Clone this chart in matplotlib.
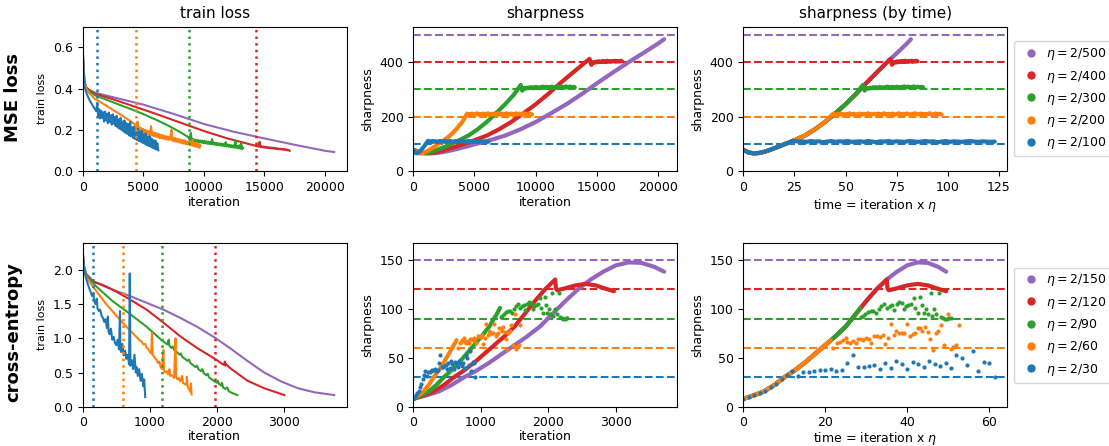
import numpy as np
import matplotlib
matplotlib.use("Agg")
import matplotlib.pyplot as plt
from matplotlib.lines import Line2D

BLUE, ORANGE, GREEN, RED, PURPLE = "#1f77b4", "#ff7f0e", "#2ca02c", "#d62728", "#9467bd"

# ================= MSE loss runs (order: 2/500 ... 2/100) =================
mse_names = ["2/500", "2/400", "2/300", "2/200", "2/100"]
mse_etas = [2 / 500, 2 / 400, 2 / 300, 2 / 200, 2 / 100]
mse_thresholds = [500, 400, 300, 200, 100]
mse_eos_iters = [None, 14330, 8750, 4400, 1180]
colors = [PURPLE, RED, GREEN, ORANGE, BLUE]

# train loss, smooth part (iteration, loss)
mse_loss_it_500 = [0, 60, 150, 300, 500, 1000, 2500, 5000, 7500, 10000, 12500, 15000, 17500, 20000, 20750]
mse_loss_500 = [0.60, 0.50, 0.43, 0.405, 0.395, 0.38, 0.358, 0.322, 0.277, 0.228, 0.19, 0.158, 0.127, 0.098, 0.092]
mse_loss_it_400 = [0, 60, 150, 300, 500, 1000, 2500, 4000, 6000, 8000, 10000, 12000, 14300]
mse_loss_400 = [0.60, 0.50, 0.43, 0.405, 0.392, 0.375, 0.348, 0.318, 0.278, 0.236, 0.194, 0.157, 0.122]
mse_loss_it_300 = [0, 60, 150, 300, 500, 1000, 2000, 3000, 4000, 5000, 6000, 7000, 8000, 8700]
mse_loss_300 = [0.60, 0.50, 0.43, 0.40, 0.387, 0.368, 0.345, 0.322, 0.300, 0.276, 0.250, 0.222, 0.19, 0.165]
mse_loss_it_200 = [0, 60, 150, 300, 500, 1000, 2000, 3000, 4000, 4380]
mse_loss_200 = [0.60, 0.50, 0.43, 0.40, 0.38, 0.35, 0.315, 0.278, 0.24, 0.222]
mse_loss_it_100 = [0, 60, 150, 350, 580, 850, 1120]
mse_loss_100 = [0.60, 0.50, 0.41, 0.372, 0.342, 0.315, 0.29]

# train loss, noisy part after reaching 2/eta (logged every 80 iterations)
mse_noisy_start = [None, 14360, 8760, 4440, 1200]
mse_noisy_400 = [0.120, 0.124, 0.118, 0.142, 0.116, 0.120, 0.114, 0.119, 0.113, 0.117, 0.112, 0.116,
                 0.111, 0.115, 0.110, 0.114, 0.109, 0.113, 0.108, 0.112, 0.107, 0.110, 0.106, 0.109,
                 0.105, 0.108, 0.104, 0.107, 0.103, 0.106, 0.102, 0.104, 0.100, 0.102, 0.098]
mse_noisy_300 = [0.160, 0.150, 0.185, 0.146, 0.156, 0.143, 0.153, 0.141, 0.151, 0.140, 0.150, 0.138,
                 0.148, 0.137, 0.147, 0.135, 0.146, 0.134, 0.144, 0.132, 0.142, 0.131, 0.141, 0.130,
                 0.155, 0.129, 0.138, 0.127, 0.137, 0.126, 0.135, 0.125, 0.134, 0.123, 0.133, 0.122,
                 0.131, 0.121, 0.140, 0.119, 0.128, 0.118, 0.127, 0.116, 0.125, 0.115, 0.124, 0.113,
                 0.148, 0.112, 0.121, 0.110, 0.125, 0.108, 0.135, 0.106, 0.112]
mse_noisy_200 = [0.205, 0.240, 0.198, 0.212, 0.192, 0.208, 0.188, 0.204, 0.183, 0.200, 0.180, 0.196,
                 0.178, 0.193, 0.176, 0.218, 0.172, 0.188, 0.168, 0.186, 0.166, 0.182, 0.163, 0.180,
                 0.160, 0.176, 0.158, 0.174, 0.156, 0.171, 0.154, 0.168, 0.152, 0.166, 0.150, 0.164,
                 0.200, 0.147, 0.162, 0.144, 0.160, 0.142, 0.156, 0.140, 0.155, 0.137, 0.152, 0.135,
                 0.150, 0.132, 0.148, 0.130, 0.145, 0.128, 0.143, 0.126, 0.140, 0.123, 0.150, 0.120,
                 0.136, 0.118, 0.138, 0.115, 0.130, 0.112, 0.125]
mse_noisy_100 = [0.330, 0.262, 0.300, 0.255, 0.292, 0.258, 0.285, 0.240, 0.288, 0.245, 0.278, 0.232,
                 0.283, 0.238, 0.270, 0.225, 0.275, 0.230, 0.262, 0.218, 0.268, 0.212, 0.250, 0.205,
                 0.258, 0.200, 0.240, 0.192, 0.245, 0.185, 0.232, 0.180, 0.228, 0.172, 0.238, 0.168,
                 0.212, 0.160, 0.215, 0.155, 0.200, 0.150, 0.205, 0.145, 0.190, 0.142, 0.195, 0.136,
                 0.178, 0.132, 0.182, 0.126, 0.168, 0.122, 0.170, 0.118, 0.158, 0.112, 0.150, 0.108,
                 0.148, 0.104, 0.135, 0.100]

# sharpness, progressive sharpening part (iteration, sharpness)
mse_sharp_it_500 = [0, 625, 1250, 1875, 2500, 3125, 3750, 4375, 5000, 5625, 6250, 7500, 8750,
                    10000, 11250, 12500, 13750, 15000, 16250, 17500, 18750, 20000, 20500]
mse_sharp_500 = [78, 68, 65, 66, 70, 76, 83, 90, 98, 105, 113, 130, 153, 180, 212, 245, 282, 322,
                 360, 397, 432, 468, 484]
mse_sharp_it_400 = [0, 500, 1000, 1500, 2000, 2500, 3000, 3500, 4000, 4500, 5000, 6000, 7000, 8000,
                    9000, 10000, 11000, 12000, 13000, 14000, 14400]
mse_sharp_400 = [78, 68, 65, 66, 70, 76, 83, 90, 98, 105, 113, 130, 153, 180, 212, 245, 282, 322, 360, 397, 412]
mse_sharp_it_300 = [0, 375, 750, 1125, 1500, 1875, 2250, 2625, 3000, 3375, 3750, 4500, 5250, 6000,
                    6750, 7500, 8250, 8775]
mse_sharp_300 = [78, 68, 65, 66, 70, 76, 83, 90, 98, 105, 113, 130, 153, 180, 212, 245, 282, 316]
mse_sharp_it_200 = [0, 250, 500, 750, 1000, 1250, 1500, 1750, 2000, 2250, 2500, 3000, 3500, 4000, 4400]
mse_sharp_200 = [78, 68, 65, 66, 70, 76, 83, 90, 98, 105, 113, 130, 153, 180, 211]
mse_sharp_it_100 = [0, 125, 250, 375, 500, 625, 750, 875, 1000, 1125, 1200]
mse_sharp_100 = [78, 68, 65, 66, 70, 76, 83, 90, 98, 105, 111]

# sharpness at the edge of stability (logged every 100 iterations)
mse_plateau_start = [None, 14550, 8900, 4500, 1250]
mse_plateau_400 = [390, 397, 400, 398, 402, 399, 403, 401, 400, 404, 401, 403, 400, 405, 402, 401,
                   404, 402, 403, 405, 401, 404, 403, 402, 405, 403]
mse_plateau_300 = [295, 302, 305, 303, 306, 304, 307, 305, 308, 304, 306, 309, 305, 307, 304, 308,
                   306, 310, 305, 307, 309, 306, 308, 305, 310, 307, 306, 309, 307, 311, 306, 308,
                   310, 307, 309, 306, 311, 308, 307, 310, 308, 306, 309, 307]
mse_plateau_200 = [205, 209, 207, 211, 206, 209, 208, 212, 207, 210, 206, 209, 211, 207, 210, 208,
                   212, 206, 209, 210, 207, 211, 208, 209, 212, 207, 210, 208, 211, 206, 209, 212,
                   208, 210, 207, 211, 209, 206, 210, 212, 208, 209, 211, 207, 210, 208, 212, 209,
                   207, 211, 209, 210, 208]
mse_plateau_100 = [110, 108, 109, 107, 110, 108, 109, 106, 108, 110, 107, 109, 108, 110, 107, 108,
                   109, 107, 110, 108, 106, 109, 108, 110, 107, 109, 108, 107, 110, 109, 107, 108,
                   110, 108, 109, 106, 108, 110, 107, 109, 108, 107, 109, 110, 108, 107, 109, 108,
                   107, 108]

# ================= cross-entropy runs (order: 2/150 ... 2/30) =================
ce_names = ["2/150", "2/120", "2/90", "2/60", "2/30"]
ce_etas = [2 / 150, 2 / 120, 2 / 90, 2 / 60, 2 / 30]
ce_thresholds = [150, 120, 90, 60, 30]
ce_eos_iters = [None, 1970, 1185, 593, 148]

ce_loss_it_150 = [0, 15, 50, 150, 300, 450, 700, 950, 1200, 1450, 1700, 1950, 2200, 2450, 2700,
                  2950, 3200, 3450, 3740]
ce_loss_150 = [2.30, 2.08, 1.95, 1.84, 1.77, 1.71, 1.62, 1.52, 1.42, 1.30, 1.17, 1.02, 0.85, 0.67,
               0.50, 0.37, 0.27, 0.21, 0.17]
ce_loss_it_120 = [0, 15, 50, 150, 300, 450, 700, 950, 1200, 1450, 1700, 1950, 2100, 2115, 2125,
                  2135, 2200, 2450, 2700, 3000]
ce_loss_120 = [2.28, 2.05, 1.93, 1.83, 1.78, 1.71, 1.57, 1.42, 1.23, 1.03, 0.86, 0.71, 0.61, 0.66,
               0.60, 0.62, 0.56, 0.38, 0.27, 0.17]
ce_loss_it_90 = [0, 15, 50, 200, 450, 700, 950, 1190, 1220, 1260, 1280, 1290, 1320, 1340, 1360,
                 1400, 1440, 1460, 1480, 1520, 1560, 1580, 1600, 1640, 1680, 1700, 1720, 1760, 1780,
                 1800, 1840, 1860, 1880, 1920, 1960, 2000, 2010, 2030, 2060, 2070, 2090, 2120, 2150,
                 2170, 2200, 2250, 2300]
ce_loss_90 = [2.28, 2.03, 1.92, 1.76, 1.54, 1.36, 1.17, 0.96, 0.94, 0.91, 0.98, 0.89, 0.86, 0.88,
              0.83, 0.80, 0.76, 0.78, 0.73, 0.70, 0.67, 0.69, 0.64, 0.61, 0.58, 0.60, 0.55, 0.52,
              0.55, 0.49, 0.46, 0.48, 0.43, 0.40, 0.37, 0.35, 0.38, 0.33, 0.31, 0.35, 0.28, 0.26,
              0.28, 0.23, 0.21, 0.19, 0.17]
ce_loss_it_60 = [0, 15, 50, 150, 350, 573, 700, 850, 880, 900, 930, 950, 980, 1000, 1020, 1030,
                 1040, 1070, 1100, 1120, 1140, 1160, 1180, 1200, 1210, 1230, 1250, 1270, 1290, 1300,
                 1330, 1360, 1380, 1390, 1410, 1430, 1450, 1480, 1490, 1520, 1540, 1550, 1560, 1580,
                 1600, 1610, 1620]
ce_loss_60 = [2.28, 2.02, 1.90, 1.76, 1.50, 1.25, 1.12, 0.97, 0.95, 0.91, 0.92, 0.86, 0.84, 0.80,
              0.78, 1.08, 0.76, 0.72, 0.68, 0.64, 0.66, 0.58, 0.55, 0.83, 0.53, 0.50, 0.52, 0.47,
              0.55, 0.45, 0.46, 0.42, 1.00, 0.43, 0.40, 0.42, 0.37, 0.45, 0.35, 0.33, 0.32, 0.44,
              0.30, 0.26, 0.22, 0.34, 0.18]
ce_loss_it_30 = [0, 20, 50, 80, 110, 140, 160, 170, 190, 210, 220, 240, 260, 280, 300, 320, 340,
                 360, 375, 385, 400, 420, 440, 460, 480, 500, 520, 540, 555, 560, 570, 590, 610,
                 630, 650, 670, 690, 700, 710, 730, 750, 770, 790, 800, 820, 840, 860, 880, 900,
                 915, 930]
ce_loss_30 = [2.25, 2.02, 1.88, 1.78, 1.70, 1.62, 1.66, 1.55, 1.50, 1.58, 1.44, 1.40, 1.42, 1.33,
              1.30, 1.24, 1.28, 1.15, 1.32, 1.10, 1.06, 1.14, 0.98, 1.02, 0.93, 0.90, 0.98, 0.84,
              1.40, 0.85, 0.80, 0.92, 0.75, 0.82, 0.70, 0.76, 0.62, 1.95, 0.60, 0.68, 0.55, 0.76,
              0.50, 0.58, 0.45, 0.55, 0.38, 0.48, 0.30, 0.40, 0.14]

# sharpness: dense part (drawn as thick line)
ce_sharp_it_150 = [0, 188, 375, 562, 750, 938, 1125, 1312, 1500, 1688, 1875, 2062, 2250, 2438,
                   2625, 2812, 3000, 3188, 3375, 3562, 3712]
ce_sharp_150 = [8, 11.5, 15.5, 22, 30, 37, 45, 54, 63, 72, 82, 95, 108, 120, 130, 138, 144.5,
                147.5, 147, 143, 138]
ce_sharp_it_120 = [0, 150, 300, 450, 600, 750, 900, 1050, 1200, 1350, 1500, 1650, 1800, 1950, 2100,
                   2110, 2130, 2160, 2220, 2400, 2550, 2700, 2850, 2970]
ce_sharp_120 = [8, 11.5, 15.5, 22, 30, 37, 45, 54, 63, 72, 82, 95, 108, 120, 130, 121, 119, 119.5,
                120.5, 124, 125.5, 124, 120.5, 118]
ce_sharp_it_90 = [0, 112, 225, 338, 450, 562, 675, 788, 900, 1012, 1125, 1238, 1283]
ce_sharp_90 = [8, 11.5, 15.5, 22, 30, 37, 45, 54, 63, 72, 82, 95, 101]
ce_sharp_it_60 = [0, 75, 150, 225, 300, 375, 450, 525, 600, 640]
ce_sharp_60 = [8, 11.5, 15.5, 22, 30, 37, 45, 54, 63, 68]

# sharpness: scattered measurements (drawn as dots)
ce_dots_it_90 = [1296, 1314, 1341, 1368, 1400, 1426, 1458, 1485, 1516, 1543, 1575, 1606, 1633,
                 1656, 1687, 1710, 1737, 1768, 1791, 1809, 1840, 1872, 1890, 1921, 1944, 1966,
                 1980, 2002, 2025, 2056, 2074, 2097, 2119, 2151, 2173, 2196, 2218, 2241, 2259, 2281]
ce_dots_90 = [92, 93, 95, 97, 98, 97.5, 96, 99.5, 102.7, 105, 101, 102.7, 104, 98.5, 105, 107.5,
              106, 99.5, 103, 104, 105, 110.6, 101, 95.6, 112, 104, 96, 99.5, 94.7, 116, 93, 99.5,
              94.7, 116, 91.5, 90.5, 90, 90, 90.5, 91]
ce_dots_it_60 = [660, 684, 705, 726, 750, 762, 783, 801, 822, 840, 861, 879, 897, 918, 933, 960,
                 978, 999, 1020, 1038, 1059, 1080, 1101, 1119, 1140, 1161, 1179, 1197, 1218, 1239,
                 1257, 1275, 1293, 1311, 1329, 1350, 1368, 1389, 1407, 1428, 1446, 1470, 1500,
                 1521, 1536, 1557, 1581]
ce_dots_60 = [59.8, 64.6, 66.2, 68.1, 70.7, 66.5, 65.6, 67.2, 65.6, 68.8, 69.7, 68.5, 70.1, 68.8,
              65.6, 72.6, 72.0, 71.0, 73.6, 63.7, 70.0, 84.5, 72.9, 77.4, 75.8, 75.8, 75.5, 84.5,
              72.0, 74.5, 75.8, 80.6, 80.0, 77.4, 81.3, 76.8, 69.7, 57.6, 74.9, 77.4, 83.2, 63.3,
              94.4, 59.2, 61.0, 63.0, 83.2]
ce_dots_it_30 = list(range(0, 921, 20))
ce_dots_30 = [8, 10, 12, 14, 16.5, 20, 23.5, 28, 32, 36, 31, 35.5, 35, 36.5, 37.7, 38, 38.4, 36.5,
              37.7, 45, 52.4, 41, 40.3, 41.3, 43, 38.7, 44.5, 39.7, 46.7, 43.5, 38.7, 45.7, 43.5,
              40.3, 46.7, 44.1, 41.9, 44.5, 39.3, 52.4, 49.6, 42.9, 57, 36.5, 46, 44.8, 30]


def with_tail(it, vals, start, step, tail):
    # append a regularly logged segment after the smooth part
    if start is None:
        return np.asarray(it, float), np.asarray(vals, float)
    x = start + step * np.arange(len(tail))
    return np.r_[it, x], np.r_[vals, tail]


mse_loss = [with_tail(a, b, s, 80, t) for a, b, s, t in zip(
    [mse_loss_it_500, mse_loss_it_400, mse_loss_it_300, mse_loss_it_200, mse_loss_it_100],
    [mse_loss_500, mse_loss_400, mse_loss_300, mse_loss_200, mse_loss_100],
    mse_noisy_start, [[], mse_noisy_400, mse_noisy_300, mse_noisy_200, mse_noisy_100])]
mse_sharp = [with_tail(a, b, s, 100, t) for a, b, s, t in zip(
    [mse_sharp_it_500, mse_sharp_it_400, mse_sharp_it_300, mse_sharp_it_200, mse_sharp_it_100],
    [mse_sharp_500, mse_sharp_400, mse_sharp_300, mse_sharp_200, mse_sharp_100],
    mse_plateau_start, [[], mse_plateau_400, mse_plateau_300, mse_plateau_200, mse_plateau_100])]

ce_loss = [(ce_loss_it_150, ce_loss_150), (ce_loss_it_120, ce_loss_120), (ce_loss_it_90, ce_loss_90),
           (ce_loss_it_60, ce_loss_60), (ce_loss_it_30, ce_loss_30)]
ce_lines = [(ce_sharp_it_150, ce_sharp_150), (ce_sharp_it_120, ce_sharp_120),
            (ce_sharp_it_90, ce_sharp_90), (ce_sharp_it_60, ce_sharp_60), None]
ce_dots = [None, None, (ce_dots_it_90, ce_dots_90), (ce_dots_it_60, ce_dots_60),
           (ce_dots_it_30, ce_dots_30)]

# ---------------- layout ----------------
W, H = 1109, 446
fig = plt.figure(figsize=(W / 100, H / 100), dpi=100)


def box(l, t, r, b):
    return [l / W, 1 - b / H, (r - l) / W, (b - t) / H]


cols = [(82.7, 346.7), (413.3, 676.7), (743.3, 1007.3)]
rows = [(26.7, 171.0), (243.3, 406.7)]
axes = [[fig.add_axes(box(c[0], r[0], c[1], r[1])) for c in cols] for r in rows]

TICK = 9
for row in axes:
    for ax in row:
        ax.tick_params(labelsize=TICK)

LW_THICK = 3.0
MS = 3.0


def draw_loss(ax, series, eos, ylim, yticks, pad):
    for (it, loss), c in zip(series, colors):
        ax.plot(it, loss, color=c, lw=1.5)
    for x, c in zip(eos, colors):
        if x is not None:
            ax.axvline(x, color=c, ls=":", lw=1.8)
    ax.set_xlim(left=0)
    ax.set_ylim(*ylim)
    ax.set_yticks(yticks)
    ax.set_xlabel("iteration", fontsize=9, labelpad=pad)
    ax.set_ylabel("train loss", fontsize=8)


def legend(ax, names):
    handles = [Line2D([], [], ls="", marker="o", ms=5, color=c, label=r"$\eta = %s$" % n)
               for c, n in zip(colors, names)]
    ax.legend(handles=handles, loc="center left", bbox_to_anchor=(1.0, 0.5), fontsize=9,
              handlelength=2.0, handletextpad=0.2, labelspacing=0.5)


# ---- row 1: MSE ----
ax_l, ax_s, ax_t = axes[0]
draw_loss(ax_l, mse_loss, mse_eos_iters, (0, 0.7), [0.0, 0.2, 0.4, 0.6], 2)
ax_l.set_title("train loss", fontsize=11)

for ax in (ax_s, ax_t):
    for th, c in zip(mse_thresholds, colors):
        ax.axhline(th, color=c, ls="--", lw=1.5, zorder=1)
for (it, s), eta, c in zip(mse_sharp, mse_etas, colors):
    ax_s.plot(it, s, color=c, lw=LW_THICK, solid_capstyle="round", zorder=2)
    ax_t.plot(it * eta, s, color=c, lw=LW_THICK, solid_capstyle="round", zorder=2)
for ax in (ax_s, ax_t):
    ax.set_xlim(left=0)
    ax.set_ylim(0, 530)
    ax.set_yticks([0, 200, 400])
    ax.set_ylabel("sharpness", fontsize=9)
ax_s.set_title("sharpness", fontsize=11)
ax_t.set_title("sharpness (by time)", fontsize=11)
ax_s.set_xlabel("iteration", fontsize=9, labelpad=2)
ax_t.set_xlabel(r"time = iteration x $\eta$", fontsize=9, labelpad=2)
ax_t.set_xticks([0, 25, 50, 75, 100, 125])
legend(ax_t, mse_names)

# ---- row 2: cross-entropy ----
ax_l, ax_s, ax_t = axes[1]
draw_loss(ax_l, ce_loss, ce_eos_iters, (0, 2.39), [0.0, 0.5, 1.0, 1.5, 2.0], 0.5)

for ax in (ax_s, ax_t):
    for th, c in zip(ce_thresholds, colors):
        ax.axhline(th, color=c, ls="--", lw=1.5, zorder=1)
for line, dots, eta, c in zip(ce_lines, ce_dots, ce_etas, colors):
    for ax, scale in ((ax_s, 1.0), (ax_t, eta)):
        if line is not None:
            ax.plot(np.asarray(line[0]) * scale, line[1], color=c, lw=LW_THICK,
                    solid_capstyle="round", zorder=2)
        if dots is not None:
            ax.plot(np.asarray(dots[0]) * scale, dots[1], ls="", marker="o", ms=MS,
                    mew=0, color=c, zorder=2)
for ax in (ax_s, ax_t):
    ax.set_xlim(left=0)
    ax.set_ylim(0, 167)
    ax.set_yticks([0, 50, 100, 150])
    ax.set_ylabel("sharpness", fontsize=9)
ax_s.set_xlabel("iteration", fontsize=9, labelpad=0.5)
ax_s.set_xticks([0, 1000, 2000, 3000])
ax_t.set_xlabel(r"time = iteration x $\eta$", fontsize=9, labelpad=0.5)
ax_t.set_xticks([0, 20, 40, 60])
legend(ax_t, ce_names)

fig.text(13 / W, 1 - 97.5 / H, "MSE loss", rotation=90, fontsize=13, fontweight="bold",
         ha="center", va="center")
fig.text(13 / W, 1 - 332.5 / H, "cross-entropy", rotation=90, fontsize=13, fontweight="bold",
         ha="center", va="center")

fig.savefig("out.png", dpi=100)
